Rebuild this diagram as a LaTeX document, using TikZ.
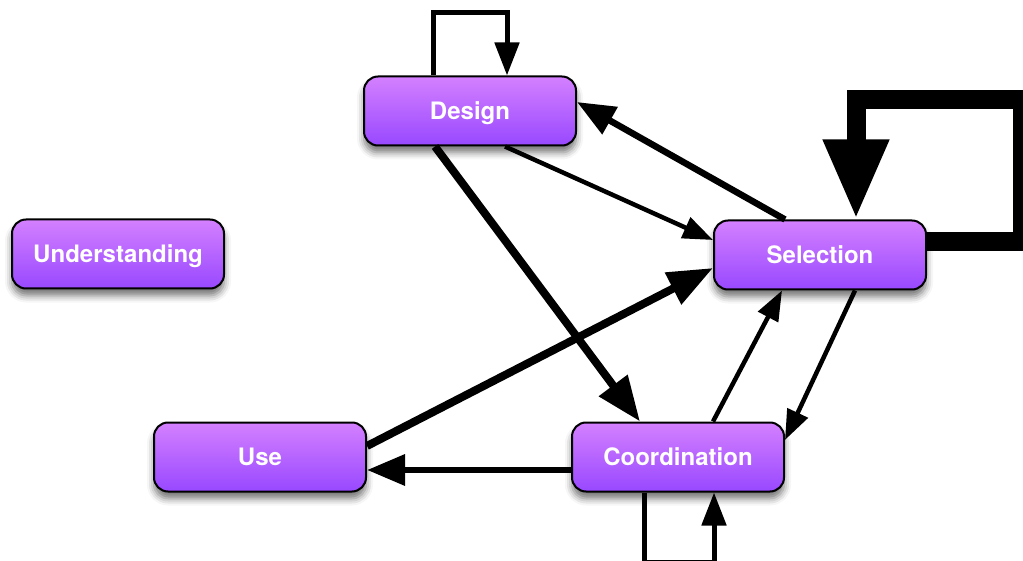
\documentclass[tikz,border=0pt]{standalone}
\usepackage{fontspec}
\setmainfont{TeX Gyre Heros}
\usetikzlibrary{arrows.meta,shadows.blur}
\definecolor{boxtop}{RGB}{212,128,255}
\definecolor{boxbot}{RGB}{152,72,255}
\begin{document}
\begin{tikzpicture}[x=1pt,y=-1pt,
	phase/.style={draw=black,line width=2pt,rounded corners=14pt,top color=boxtop,bottom color=boxbot,
		minimum width=212pt,minimum height=69pt,text height=17.3pt,text depth=0pt,text=white,
		font=\fontsize{24}{28}\selectfont\bfseries,
		blur shadow={shadow xshift=0pt,shadow yshift=-7pt,shadow blur radius=7pt,shadow opacity=55}},
	lightflow/.style={line width=4.5pt,-{Triangle[length=30pt,width=22pt]}},
	midflow/.style={line width=6.5pt,-{Triangle[length=38pt,width=30pt]}},
	heavyflow/.style={line width=8pt,-{Triangle[length=45pt,width=34pt]}},
	loopflow/.style={line width=5pt,-{Triangle[length=33pt,width=24pt]}},
	bigloop/.style={line width=19pt,-{Triangle[length=80pt,width=61pt]}}]
		\clip (0,0) rectangle (1023,561);
		\node[phase] (design) at (470,111) {Design};
		\node[phase] (selection) at (820,255) {Selection};
		\node[phase] (understanding) at (118,254) {Understanding};
		\node[phase] (use) at (260,457) {Use};
		\node[phase] (coordination) at (678,457) {Coordination};
		\draw[loopflow] ([xshift=-37pt]design.north) -- ++(0,-63) -| ([xshift=37pt]design.north);
		\draw[bigloop] ([yshift=13pt]selection.east) -- ++(95,0) -- ++(0,-142) -| ([xshift=36pt]selection.north);
		\draw[loopflow] ([xshift=-34pt]coordination.south) -- ++(0,70) -| ([xshift=36pt]coordination.south);
		\draw[lightflow] ([xshift=35pt]design.south) -- ([yshift=15pt]selection.west);
		\draw[midflow] ([xshift=-35pt]selection.north) -- ([yshift=9pt]design.east);
		\draw[heavyflow] ([xshift=-35pt]design.south) -- ([xshift=-38pt]coordination.north);
		\draw[heavyflow] ([yshift=11pt]use.east) -- ([yshift=-13pt]selection.west);
		\draw[lightflow] ([xshift=35pt]coordination.north) -- ([xshift=-38pt]selection.south);
		\draw[lightflow] ([xshift=35pt]selection.south) -- ([yshift=17pt]coordination.east);
		\draw[midflow] ([yshift=-13pt]coordination.west) -- ([yshift=-13pt]use.east);
\end{tikzpicture}
\end{document}
